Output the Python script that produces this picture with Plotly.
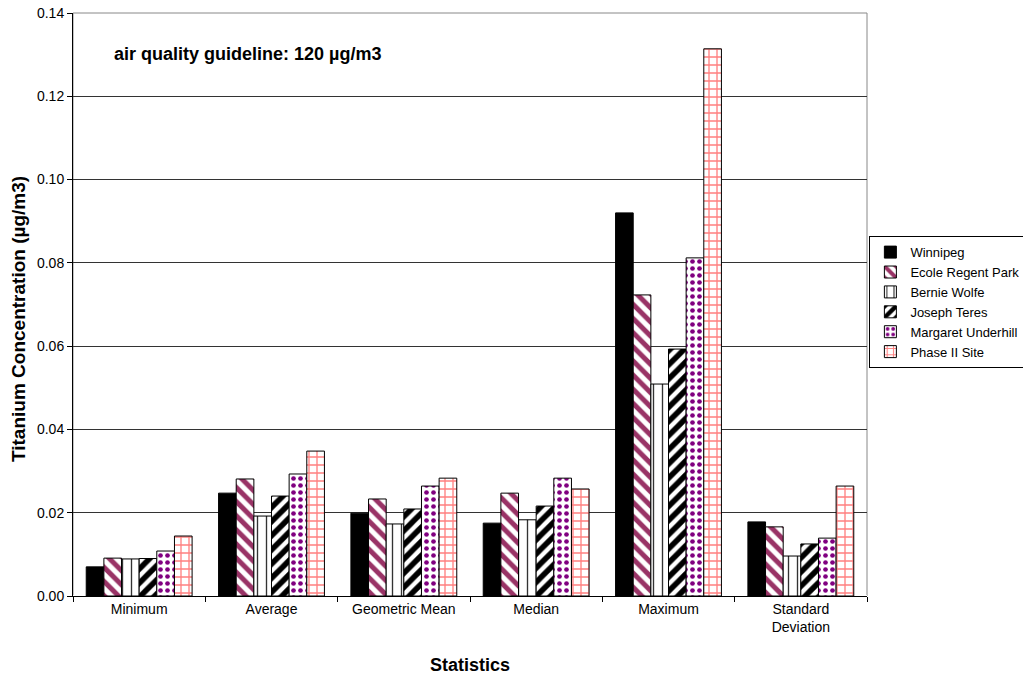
import plotly.graph_objects as go

categories = ["Minimum", "Average", "Geometric Mean", "Median", "Maximum", "Standard<br>Deviation"]
winnipeg = [0.0070, 0.0247, 0.0199, 0.0175, 0.0920, 0.0178]
ecole = [0.0091, 0.0281, 0.0233, 0.0247, 0.0723, 0.0166]
bernie = [0.0089, 0.0192, 0.0173, 0.0183, 0.0509, 0.0096]
joseph = [0.0090, 0.0240, 0.0209, 0.0216, 0.0593, 0.0125]
margaret = [0.0108, 0.0293, 0.0264, 0.0283, 0.0812, 0.0139]
phase2 = [0.0144, 0.0348, 0.0283, 0.0257, 0.1314, 0.0264]
y_ticks = [0.00, 0.02, 0.04, 0.06, 0.08, 0.10, 0.12, 0.14]

series = [
    ("Winnipeg", winnipeg, dict(shape="", bgcolor="black")),
    ("Ecole Regent Park", ecole, dict(shape="\\", fgcolor="#993366", bgcolor="white", size=10, solidity=0.5, fgopacity=1)),
    ("Bernie Wolfe", bernie, dict(shape="|", fgcolor="#333333", bgcolor="white", size=9, solidity=0.15, fgopacity=1)),
    ("Joseph Teres", joseph, dict(shape="/", fgcolor="black", bgcolor="white", size=10, solidity=0.55, fgopacity=1)),
    ("Margaret Underhill", margaret, dict(shape=".", fgcolor="#800080", bgcolor="white", size=7, solidity=0.35, fgopacity=1)),
    ("Phase II Site", phase2, dict(shape="+", fgcolor="#FF7F7F", bgcolor="white", size=8, solidity=0.3, fgopacity=1)),
]

fig = go.Figure()
for name, vals, pat in series:
    fig.add_trace(go.Bar(
        x=categories, y=vals, name=name,
        marker=dict(color="black" if name == "Winnipeg" else "white",
                    pattern=pat, line=dict(color="black", width=1)),
    ))

fig.update_layout(
    width=1023, height=679,
    margin=dict(l=73, r=156, t=13, b=83, autoexpand=False),
    paper_bgcolor="white", plot_bgcolor="white",
    barmode="group", bargap=0.2, bargroupgap=0,
    font=dict(family="Arial, Liberation Sans, sans-serif", size=14, color="black"),
    showlegend=True,
    legend=dict(x=1.003, y=0.504, xanchor="left", yanchor="middle",
                bordercolor="black", borderwidth=1, font=dict(size=13),
                tracegroupgap=0, itemwidth=30, bgcolor="white"),
    xaxis=dict(title=dict(text="<b>Statistics</b>", font=dict(size=18), standoff=24),
               showline=True, linecolor="black", mirror=False, tickfont=dict(size=14),
               ticks="outside", tickson="boundaries", ticklen=5, tickcolor="black"),
    yaxis=dict(range=[0, 0.14], tickvals=y_ticks, tickformat=".2f", tickfont=dict(size=14),
               showgrid=True, gridcolor="#333333", gridwidth=1,
               showline=True, linecolor="black", ticks="outside", ticklen=5, tickcolor="black"),
    annotations=[
        dict(text="<b>air quality guideline: 120 µg/m3</b>", x=0.049, y=0.930,
             xref="paper", yref="paper", xanchor="left", yanchor="middle",
             showarrow=False, font=dict(size=18)),
        dict(text="<b>Titanium Concentration (µg/m3)</b>", x=(18 - 73) / (1023 - 73 - 156),
             y=(596 - 319) / 583,
             xref="paper", yref="paper", xanchor="center", yanchor="middle", textangle=-90,
             showarrow=False, font=dict(size=19)),
    ],
    shapes=[dict(type="rect", xref="paper", yref="paper", x0=0, x1=1, y0=0, y1=1,
                 line=dict(color="#888888", width=1), layer="below")],
)

fig.write_html("out.html")
